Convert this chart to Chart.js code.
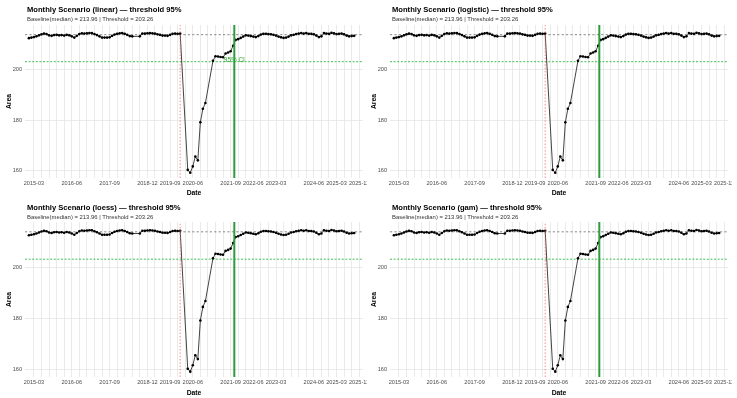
<!DOCTYPE html>
<html>
<head>
<meta charset="utf-8">
<script src="https://cdn.jsdelivr.net/npm/chart.js@4.4.1/dist/chart.umd.min.js"></script>
<style>
  html, body { margin: 0; padding: 0; background: #fff; }
  #wrap { position: relative; width: 737px; height: 398px; overflow: hidden; }
  .panel { position: absolute; overflow: hidden; }
</style>
</head>
<body>
<div id="wrap"></div>
<script>
// ---------- data ----------
const startMonth = '2015-01'   // first monthly observation
const area = [
  212.6, 212.8, 213.0, 213.3, 213.7, 214.1, 214.4, 214.2, 213.7, 213.5,
  213.8, 213.9, 213.7, 213.8, 213.6, 213.9, 213.7, 213.3, 212.8, 213.5,
  214.2, 214.5, 214.4, 214.5, 214.6, 214.6, 214.2, 213.8, 213.3, 212.8,
  212.8, 212.8, 212.9, 213.5, 214.0, 214.3, 214.5, 214.6, 214.3, 213.9,
  213.4, 213.3, null, null, 213.3, 214.4, 214.4, 214.5, 214.6, 214.5,
  214.4, 214.1, 213.9, 213.6, 213.6, 213.5, 213.9, 214.3, 214.4, 214.3,
  214.4, null, null, 160.4, 159.3, 161.8, 165.7, 164.2, 179.3, 184.6,
  186.9, null, null, 203.6, 205.4, 205.3, 205.1, 205.0, 206.5, 206.9,
  207.4, 209.6, 211.9, 212.2, 212.7, 213.2, 213.7, 213.6, 213.4, 213.2,
  213.0, 213.4, 214.0, 214.3, 214.3, 214.2, 214.1, 213.9, 213.6, 213.2,
  212.9, 212.7, 212.8, 213.2, 213.7, 213.9, 214.2, 214.4, 214.6, 214.4,
  214.6, 214.3, 214.3, 214.1, 213.6, 213.0, 213.3, 214.6, 214.4, 214.3,
  214.7, 214.5, 214.2, 214.3, 214.4, 214.1, 213.6, 213.3, 213.4, 213.5
]
const methods = ['linear', 'logistic', 'loess', 'gam']
const baseline = 213.96
const threshold = 203.26
const interventionDate = '2020-01-01'
const ciDate = '2021-10-15'
const shownTicks = ['2015-03', '2016-06', '2017-09', '2018-12', '2019-09', '2020-06',
                    '2021-09', '2022-06', '2023-03', '2024-06', '2025-03', '2025-12']
const breakStart = '2015-03'
const breakEnd = '2025-12'
const yTicks = [160, 180, 200]
const xRange = [-1.54, 132.5]   // months from 2015-01
const yRange = [157.2, 217.8]

// ---------- helpers ----------
function monthIndex(s) {
  const [y, m, d] = s.split('-').map(Number)
  return (y - 2015) * 12 + (m - 1) + ((d || 1) - 1) / 30
}
function monthLabel(i) {
  const y = 2015 + Math.floor(i / 12)
  const m = (i % 12) + 1
  return y + '-' + String(m).padStart(2, '0')
}

const x0 = monthIndex(startMonth)
const series = area.map((v, i) => ({ x: x0 + i, y: v }))
const breaks = []
for (let i = monthIndex(breakStart); i <= monthIndex(breakEnd); i += 3) breaks.push(i)

// panel placement in page pixels
const panels = [
  { left: 0,   top: 0,   width: 367, height: 198, area: { l: 25,  t: 25,  r: 365, b: 178 } },
  { left: 365, top: 0,   width: 367, height: 198, area: { l: 390, t: 25,  r: 732, b: 178 } },
  { left: 0,   top: 198, width: 367, height: 200, area: { l: 25,  t: 222, r: 365, b: 377 } },
  { left: 365, top: 198, width: 367, height: 200, area: { l: 390, t: 222, r: 732, b: 377 } },
]

const FONT = "'Liberation Sans', Arial, sans-serif"
const tickFont = { family: FONT, size: 5.6 }
const axisTitleFont = { family: FONT, size: 6.8, weight: 'bold' }

// titles, subtitle and the "95% CI" note
const panelText = {
  id: 'panelText',
  afterDraw(chart, args, opts) {
    const ctx = chart.ctx
    ctx.save()
    ctx.textAlign = 'left'
    ctx.textBaseline = 'alphabetic'
    ctx.fillStyle = '#000'
    ctx.font = 'bold 7.6px ' + FONT
    ctx.fillText('Monthly Scenario (' + opts.method + ') \u2014 threshold 95%', opts.x, opts.titleY)
    ctx.fillStyle = '#333'
    ctx.font = '5.9px ' + FONT
    ctx.fillText('Baseline(median) = ' + baseline.toFixed(2) + ' | Threshold = ' + threshold.toFixed(2), opts.x, opts.titleY + 9)
    if (opts.showCI) {
      const xs = chart.scales.x, ys = chart.scales.y
      ctx.fillStyle = '#2ca02c'
      ctx.font = '6.4px ' + FONT
      ctx.textAlign = 'center'
      ctx.textBaseline = 'middle'
      ctx.fillText('95% CI', xs.getPixelForValue(monthIndex(ciDate)), ys.getPixelForValue(threshold) - 1.5)
    }
    ctx.restore()
  }
}

const wrap = document.getElementById('wrap')
panels.forEach((p, k) => {
  const div = document.createElement('div')
  div.className = 'panel'
  div.style.left = p.left + 'px'
  div.style.top = p.top + 'px'
  div.style.width = p.width + 'px'
  div.style.height = p.height + 'px'
  const cv = document.createElement('canvas')
  div.appendChild(cv)
  wrap.appendChild(div)

  const xRed = monthIndex(interventionDate)
  const xGreen = monthIndex(ciDate)

  new Chart(cv, {
    type: 'line',
    data: {
      datasets: [
        {
          data: series, borderColor: '#222', borderWidth: 0.85,
          pointRadius: 1.3, pointBackgroundColor: '#000', pointBorderWidth: 0,
          spanGaps: true, order: 2
        },
        {
          data: [{ x: xRange[0], y: baseline }, { x: xRange[1], y: baseline }],
          borderColor: '#555', borderWidth: 0.7, borderDash: [2.2, 2.2], pointRadius: 0, order: 3
        },
        {
          data: [{ x: xRange[0], y: threshold }, { x: xRange[1], y: threshold }],
          borderColor: '#3fbf50', borderWidth: 1, borderDash: [2, 1.6], pointRadius: 0, order: 3
        },
        {
          data: [{ x: xRed, y: yRange[0] }, { x: xRed, y: yRange[1] }],
          borderColor: 'rgba(240,110,110,0.9)', borderWidth: 0.9, borderDash: [1.5, 1.8], pointRadius: 0, order: 1
        },
        {
          data: [{ x: xGreen, y: yRange[0] }, { x: xGreen, y: yRange[1] }],
          borderColor: '#2a9d3f', borderWidth: 2, pointRadius: 0, order: 0
        }
      ]
    },
    options: {
      responsive: true,
      maintainAspectRatio: false,
      animation: false,
      events: [],
      layout: {
        padding: { left: 0, top: p.area.t - p.top, right: Math.max(p.left + p.width - p.area.r, 0), bottom: 0 }
      },
      plugins: {
        legend: { display: false },
        tooltip: { enabled: false },
        panelText: {
          method: methods[k], x: p.area.l - p.left + 2, titleY: 12, showCI: k === 0
        }
      },
      scales: {
        x: {
          type: 'linear', min: xRange[0], max: xRange[1],
          afterBuildTicks: s => { s.ticks = breaks.map(v => ({ value: v })) },
          afterFit: s => { s.height = p.top + p.height - p.area.b; s.paddingRight = 0; s.paddingLeft = 0 },
          ticks: {
            autoSkip: false, maxRotation: 0, minRotation: 0, padding: 2,
            font: tickFont, color: '#4d4d4d',
            callback: v => { const l = monthLabel(Math.round(v)); return shownTicks.includes(l) ? l : '' }
          },
          grid: { color: '#e4e4e4', lineWidth: 0.8, drawTicks: false },
          border: { display: false },
          title: { display: true, text: 'Date', font: axisTitleFont, color: '#000', padding: { top: 0, bottom: 1 } }
        },
        y: {
          type: 'linear', min: yRange[0], max: yRange[1],
          afterBuildTicks: s => { s.ticks = yTicks.map(v => ({ value: v })) },
          afterFit: s => { s.width = p.area.l - p.left },
          ticks: { padding: 3, font: tickFont, color: '#4d4d4d' },
          grid: { color: '#e4e4e4', lineWidth: 0.8, drawTicks: false },
          border: { display: false },
          title: { display: true, text: 'Area', font: axisTitleFont, color: '#000', padding: { top: 5.2, bottom: 0 } }
        }
      }
    },
    plugins: [panelText]
  })
})
</script>
</body>
</html>
